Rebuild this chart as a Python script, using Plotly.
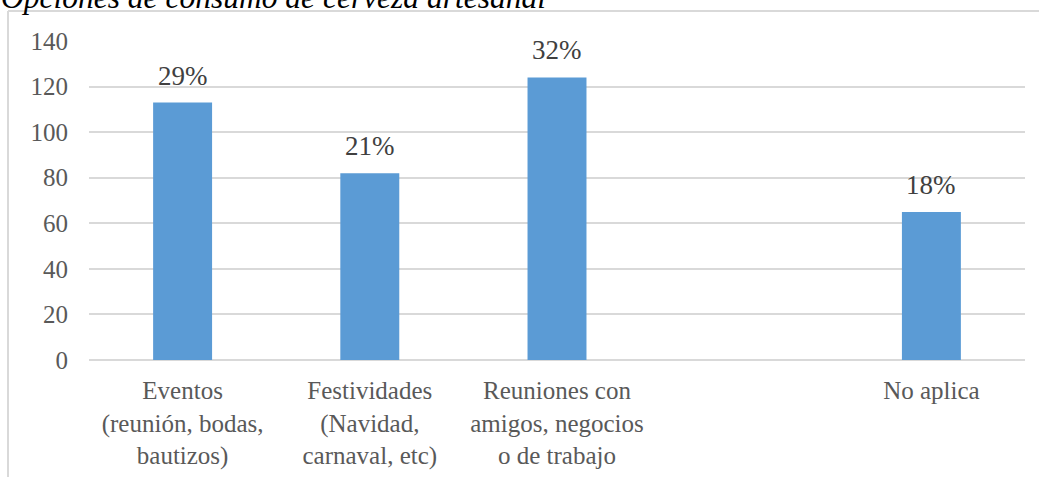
import plotly.graph_objects as go

categories = [
    "Eventos<br>(reunión, bodas,<br>bautizos)",
    "Festividades<br>(Navidad,<br>carnaval, etc)",
    "Reuniones con<br>amigos, negocios<br>o de trabajo",
    " ",
    "No aplica",
]
values = [113, 82, 124, None, 65]
labels = ["29%", "21%", "32%", "", "18%"]
y_ticks = [0, 20, 40, 60, 80, 100, 120, 140]
title_text = "Opciones de consumo de cerveza artesanal"

W, H = 1039, 477
L, R, T, B = 89, 14, 41, 117
pw, ph = W - L - R, H - T - B

def px_x(p):
    return (p - L) / pw

def px_y(p):
    return (H - B - p) / ph

fig = go.Figure()
fig.add_trace(go.Bar(
    x=categories, y=values,
    marker=dict(color="#5b9bd5", line=dict(width=0)),
    hoverinfo="skip",
))

for c, v, t in zip(categories, values, labels):
    if v is None:
        continue
    fig.add_annotation(
        x=c, y=v, text=t, showarrow=False, xref="x", yref="y",
        yanchor="bottom", yshift=10,
        font=dict(family="Liberation Serif", size=27, color="#404040"),
    )

fig.add_annotation(
    x=px_x(-1), y=px_y(17), xref="paper", yref="paper",
    xanchor="left", yanchor="bottom", showarrow=False,
    text="<i>" + title_text + "</i>",
    font=dict(family="Liberation Serif", size=31.5, color="#000000"),
)

border = dict(color="#d9d9d9", width=2)
fig.add_shape(type="line", xref="paper", yref="paper",
              x0=px_x(8), x1=px_x(8), y0=px_y(11), y1=px_y(H + 5), line=border)
fig.add_shape(type="line", xref="paper", yref="paper",
              x0=px_x(8), x1=px_x(W + 5), y0=px_y(11), y1=px_y(11), line=border)

fig.update_layout(
    width=W, height=H,
    margin=dict(l=L, r=R, t=T, b=B, autoexpand=False),
    paper_bgcolor="white", plot_bgcolor="white",
    bargap=0.685, showlegend=False,
    font=dict(family="Liberation Serif", size=25, color="#595959"),
)
fig.update_xaxes(
    type="category", showgrid=False, showline=False, ticks="",
    tickfont=dict(family="Liberation Serif", size=25, color="#595959"),
    ticklabelstandoff=13, tickangle=0,
)
fig.update_yaxes(
    range=[0, 140], tickvals=y_ticks, showgrid=True, gridcolor="#d9d9d9",
    gridwidth=1.5, zeroline=True, zerolinecolor="#d9d9d9", zerolinewidth=1.5,
    showline=False, ticks="",
    tickfont=dict(family="Liberation Serif", size=25, color="#595959"),
    ticklabelstandoff=20,
)

fig.write_html(
    "out.html",
    config={"displayModeBar": False},
    post_script="document.body.style.margin='0';document.body.style.overflow='hidden';",
)
